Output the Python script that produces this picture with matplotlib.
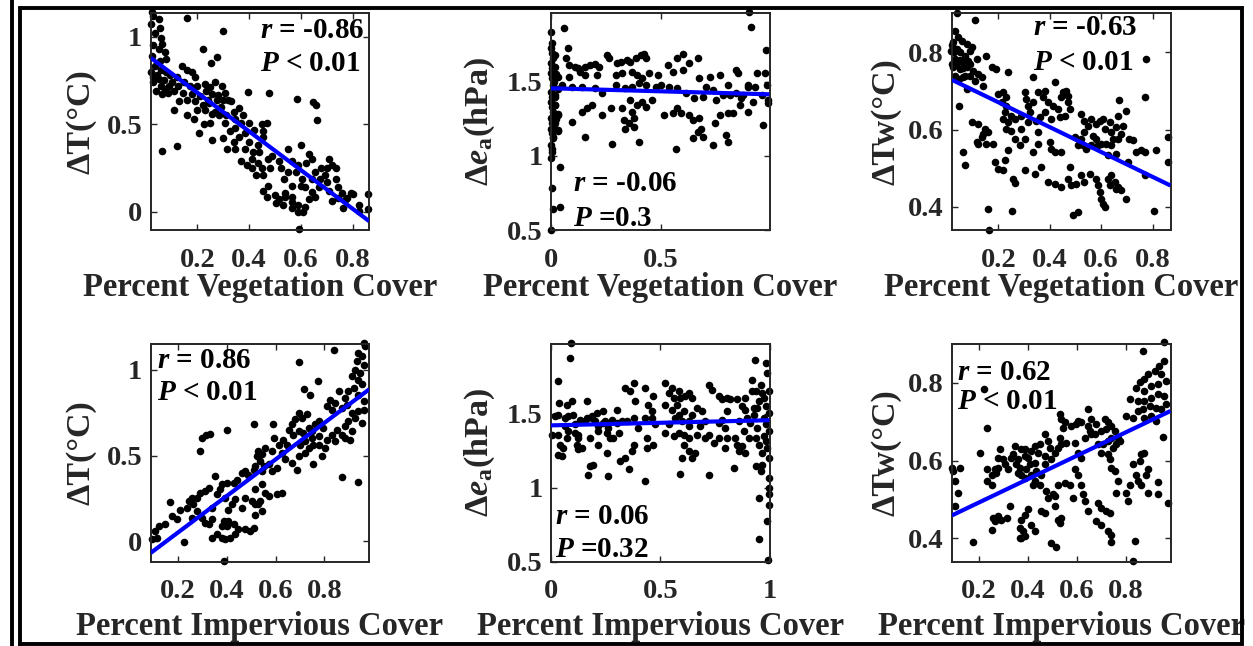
import numpy as np
import matplotlib
matplotlib.use("Agg")
import matplotlib.pyplot as plt
from matplotlib.ticker import FormatStrFormatter
from matplotlib.lines import Line2D

# ---------------- data ----------------
# Panel 1: dT vs percent vegetation cover
veg_dT = [(0.023,1.14),(0.03,1.12),(0.05,1.10),(0.022,1.07),(0.055,1.05),(0.035,1.02),(0.06,0.99),(0.065,0.96),
    (0.03,0.95),(0.05,0.93),(0.075,0.91),(0.025,0.89),(0.055,0.86),(0.08,0.87),(0.035,0.83),(0.06,0.81),(0.022,0.80),
    (0.045,0.78),(0.08,0.80),(0.03,0.74),(0.07,0.75),(0.09,0.72),(0.04,0.69),(0.075,0.70),(0.1,0.74),(0.11,0.69),
    (0.125,0.72),(0.06,0.72),(0.05,0.76),(0.095,0.78),(0.12,0.77),(0.03,0.77),(0.085,0.68),(0.065,0.67),
    (0.159,1.105),(0.298,1.034),(0.223,0.928),(0.275,0.886),(0.253,0.851),(0.062,0.349),(0.123,0.375),(0.395,0.686),
    (0.477,0.68),(0.585,0.644),(0.647,0.625),(0.658,0.61),(0.662,0.524),(0.594,-0.099),
    (0.14,0.83),(0.16,0.81),(0.18,0.80),(0.19,0.77),(0.15,0.74),(0.17,0.72),(0.2,0.72),(0.23,0.73),(0.25,0.71),
    (0.27,0.74),(0.295,0.72),(0.145,0.68),(0.18,0.67),(0.21,0.66),(0.235,0.69),(0.255,0.67),(0.28,0.665),(0.305,0.68),
    (0.32,0.64),(0.13,0.63),(0.16,0.64),(0.19,0.63),(0.22,0.61),(0.245,0.62),(0.275,0.64),(0.30,0.64),(0.33,0.63),
    (0.23,0.58),(0.255,0.56),(0.285,0.55),(0.31,0.55),(0.34,0.57),(0.11,0.58),(0.185,0.53),(0.225,0.50),(0.25,0.51),
    (0.305,0.51),(0.345,0.53),(0.205,0.45),(0.255,0.41),(0.30,0.42),(0.325,0.46),(0.345,0.48),(0.34,0.40),(0.345,0.36),
    (0.315,0.36),(0.27,0.57),(0.2,0.58),(0.16,0.55),(0.24,0.64),(0.29,0.60),(0.36,0.59),(0.37,0.51),
    (0.378,0.55),(0.40,0.51),(0.385,0.45),(0.36,0.43),(0.42,0.47),(0.45,0.50),(0.455,0.46),(0.47,0.51),(0.455,0.43),
    (0.435,0.38),(0.40,0.40),(0.385,0.36),(0.415,0.34),(0.44,0.34),(0.41,0.30),(0.435,0.28),(0.39,0.27),(0.37,0.29),
    (0.41,0.25),(0.45,0.25),(0.475,0.30),(0.49,0.32),(0.48,0.25),(0.455,0.21),(0.425,0.21),(0.475,0.15),(0.515,0.29),
    (0.525,0.25),(0.535,0.19),(0.55,0.23),(0.565,0.29),(0.58,0.23),(0.59,0.27),(0.552,0.36),(0.60,0.38),(0.63,0.33),
    (0.645,0.30),(0.62,0.28),(0.605,0.19),(0.60,0.15),(0.565,0.15),(0.54,0.11),(0.615,0.14),(0.645,0.19),(0.655,0.23),
    (0.68,0.25),(0.71,0.30),(0.70,0.25),(0.72,0.27),(0.735,0.25),(0.695,0.21),(0.675,0.19),(0.70,0.17),(0.735,0.19),
    (0.67,0.14),(0.71,0.12),(0.745,0.14),(0.76,0.105),(0.77,0.07),(0.80,0.10),(0.825,0.04),(0.86,0.10),(0.86,0.015),
    (0.765,0.02),(0.825,0.005),(0.78,0.08),(0.795,0.105),(0.745,0.08),(0.72,0.06),
    (0.47,0.086),(0.50,0.095),(0.54,0.086),(0.565,0.086),(0.505,0.048),(0.53,0.038),(0.565,0.019),(0.59,0.038),
    (0.63,0.076),(0.617,0.029),(0.59,0.0),(0.655,0.086),(0.643,0.114),(0.515,0.076),(0.565,0.057),(0.455,0.12),(0.61,0.0)]

# Panel 2: d e_a vs percent vegetation cover
veg_dea = [(0.002,1.837),(0.006,1.758),(0.0,1.725),(0.004,1.691),(0.008,1.657),(0.002,1.624),(0.006,1.59),(0.0,1.556),
    (0.004,1.522),(0.008,1.478),(0.002,1.433),(0.006,1.399),(0.0,1.365),(0.004,1.331),(0.008,1.298),(0.002,1.253),
    (0.006,1.219),(0.0,1.185),(0.004,1.152),(0.008,1.118),(0.002,1.073),(0.006,1.028),(0.0,0.983),(0.004,0.781),
    (0.008,0.646),(0.0,0.5),
    (0.018,1.68),(0.02,1.60),(0.025,1.55),(0.015,1.50),(0.03,1.45),(0.02,1.40),(0.018,1.34),(0.034,1.28),(0.025,1.25),
    (0.012,1.21),(0.03,1.17),
    (0.06,1.86),(0.041,0.927),(0.041,0.653),(0.076,1.73),(0.067,1.657),
    (0.08,1.612),(0.11,1.60),(0.125,1.59),(0.156,1.60),(0.179,1.612),(0.202,1.617),(0.217,1.60),(0.255,1.68),
    (0.263,1.657),(0.301,1.624),(0.317,1.635),(0.347,1.646),(0.362,1.635),(0.385,1.657),(0.408,1.68),(0.424,1.69),
    (0.431,1.657),
    (0.034,1.534),(0.08,1.534),(0.133,1.567),(0.156,1.545),(0.21,1.545),(0.294,1.545),(0.324,1.556),(0.37,1.567),
    (0.393,1.545),(0.416,1.522),(0.446,1.556),(0.485,1.545),(0.531,1.612),(0.554,1.567),(0.576,1.657),(0.599,1.69),
    (0.599,1.578),(0.63,1.624),(0.668,1.657),(0.676,1.522),(0.722,1.534),(0.768,1.545),(0.806,1.478),(0.844,1.578),
    (0.852,1.556),(0.898,1.478),(0.936,1.556),(0.974,1.556),(0.98,1.713),(0.913,1.87),(0.902,1.972),
    (0.018,1.41),(0.049,1.478),(0.095,1.466),(0.141,1.466),(0.202,1.455),(0.232,1.421),(0.294,1.478),(0.339,1.455),
    (0.37,1.466),(0.40,1.489),(0.431,1.478),(0.477,1.466),(0.50,1.478),(0.538,1.466),(0.576,1.455),(0.615,1.421),
    (0.653,1.388),(0.691,1.40),(0.706,1.466),(0.737,1.444),(0.752,1.376),(0.783,1.41),(0.813,1.41),(0.844,1.421),
    (0.875,1.41),(0.898,1.466),(0.928,1.466),(0.959,1.41),(0.982,1.478),(0.99,1.376),
    (0.018,1.343),(0.034,1.275),(0.095,1.23),(0.141,1.298),(0.164,1.32),(0.187,1.343),(0.232,1.275),(0.271,1.32),
    (0.324,1.32),(0.362,1.376),(0.37,1.298),(0.393,1.343),(0.416,1.365),(0.431,1.331),(0.462,1.376),(0.332,1.242),
    (0.355,1.219),(0.378,1.253),(0.339,1.185),(0.378,1.197),(0.278,1.078),(0.40,1.096),(0.515,1.275),(0.554,1.287),
    (0.576,1.32),(0.592,1.287),(0.63,1.275),(0.645,1.242),(0.676,1.253),(0.683,1.185),(0.668,1.163),(0.645,1.122),
    (0.569,1.046),(0.691,1.13),(0.737,1.073),(0.745,1.219),(0.768,1.275),(0.806,1.287),(0.798,1.14),(0.806,1.096),
    (0.829,1.287),(0.859,1.343),(0.867,1.388),(0.898,1.298),(0.92,1.365),(0.966,1.21),(0.989,1.354),(0.156,1.13),
    (0.034,1.174),(0.018,1.219),(0.011,1.13),(0.003,1.05)]

# Panel 3: dTw vs percent vegetation cover
veg_dTw = [(0.037,0.903),(0.11,0.884),(0.03,0.856),(0.043,0.839),(0.024,0.826),(0.056,0.83),(0.076,0.822),(0.095,0.813),
    (0.017,0.804),(0.05,0.80),(0.069,0.791),(0.089,0.804),(0.03,0.783),(0.056,0.774),(0.082,0.778),(0.115,0.783),
    (0.024,0.761),(0.05,0.757),(0.076,0.761),(0.102,0.753),(0.121,0.744),(0.03,0.74),(0.063,0.735),(0.089,0.74),
    (0.108,0.727),(0.134,0.735),(0.153,0.791),(0.173,0.761),(0.192,0.757),(0.238,0.748),(0.335,0.735),(0.419,0.724),
    (0.14,0.714),(0.076,0.705),(0.02,0.82),(0.04,0.81),(0.06,0.76),(0.035,0.77),(0.045,0.73),(0.02,0.77),(0.07,0.74),
    (0.09,0.77),(0.025,0.80),(0.05,0.78),
    (0.775,0.784),(0.769,0.684),(0.668,0.677),(0.697,0.647),(0.046,0.66),(0.063,0.543),(0.069,0.509),(0.16,0.395),
    (0.254,0.389),(0.164,0.339),(0.49,0.378),(0.51,0.386),(0.805,0.389),
    (0.095,0.619),(0.121,0.615),(0.147,0.602),(0.16,0.593),(0.14,0.588),(0.134,0.58),(0.121,0.563),(0.153,0.563),
    (0.179,0.563),(0.115,0.567),
    (0.199,0.692),(0.218,0.697),(0.231,0.684),(0.212,0.671),(0.231,0.662),(0.225,0.645),(0.25,0.636),(0.218,0.628),
    (0.238,0.619),(0.263,0.628),(0.231,0.602),(0.25,0.597),(0.263,0.576),(0.289,0.636),(0.309,0.679),(0.302,0.697),
    (0.315,0.662),(0.335,0.671),(0.354,0.697),(0.38,0.701),(0.374,0.684),(0.393,0.671),(0.38,0.645),(0.412,0.662),
    (0.432,0.653),(0.445,0.684),(0.451,0.697),(0.464,0.701),(0.471,0.688),(0.471,0.671),(0.477,0.653),(0.458,0.636),
    (0.438,0.632),(0.406,0.628),(0.348,0.623),(0.315,0.619),(0.289,0.602),(0.283,0.559),(0.238,0.546),(0.354,0.593),
    (0.40,0.567),(0.419,0.541),(0.445,0.541),(0.406,0.55),(0.361,0.632),(0.322,0.645),(0.302,0.576),(0.335,0.541),
    (0.354,0.563),
    (0.186,0.516),(0.199,0.498),(0.218,0.494),(0.225,0.52),(0.302,0.494),(0.341,0.485),(0.367,0.503),(0.393,0.464),
    (0.419,0.459),(0.445,0.451),(0.471,0.472),(0.477,0.503),(0.484,0.455),(0.503,0.459),(0.523,0.481),(0.535,0.464),
    (0.555,0.485),(0.581,0.472),(0.587,0.455),(0.594,0.438),(0.60,0.421),(0.607,0.408),(0.613,0.40),(0.626,0.472),
    (0.633,0.455),(0.639,0.481),(0.652,0.464),(0.659,0.447),(0.665,0.451),(0.678,0.442),(0.697,0.421),(0.257,0.472),
    (0.263,0.462),
    (0.523,0.641),(0.535,0.623),(0.535,0.593),(0.548,0.61),(0.561,0.628),(0.581,0.615),(0.594,0.623),(0.607,0.628),
    (0.613,0.602),(0.633,0.619),(0.639,0.593),(0.646,0.576),(0.568,0.584),(0.523,0.576),(0.529,0.559),(0.542,0.55),
    (0.561,0.559),(0.581,0.576),(0.60,0.563),(0.62,0.563),(0.639,0.559),(0.665,0.576),(0.678,0.589),(0.659,0.606),
    (0.684,0.61),(0.626,0.533),(0.71,0.576),(0.723,0.572),(0.736,0.541),(0.756,0.546),(0.769,0.541),(0.814,0.546),
    (0.859,0.58),(0.859,0.516),(0.704,0.516),(0.769,0.481),(0.665,0.636),(0.659,0.537),(0.497,0.58),(0.51,0.559),
    (0.587,0.559)]

# Panel 4: dT vs percent impervious cover
imp_dT = [(0.96,1.157),(0.967,1.138),(0.939,1.099),(0.953,1.08),(0.933,1.05),(0.96,1.031),(0.926,1.002),(0.946,0.983),
    (0.912,0.963),(0.939,0.944),(0.953,0.915),(0.919,0.895),(0.898,0.876),(0.939,0.856),(0.96,0.817),(0.885,0.837),
    (0.858,0.876),(0.844,0.808),(0.823,0.827),(0.81,0.788),(0.83,0.769),(0.871,0.779),(0.892,0.798),(0.912,0.75),
    (0.939,0.759),(0.96,0.769),(0.926,0.72),(0.898,0.701),(0.953,0.691),(0.912,0.643),(0.885,0.672),(0.851,0.652),
    (0.871,0.623),(0.83,0.623),(0.81,0.594),(0.844,0.584),(0.885,0.604),(0.905,0.594),
    (0.841,1.118),(0.697,1.047),(0.772,0.934),(0.716,0.891),(0.742,0.856),(0.871,0.375),(0.939,0.348),(0.40,0.65),
    (0.298,0.604),(0.315,0.623),(0.332,0.629),(0.291,0.526),(0.51,0.687),(0.59,0.687),(0.39,-0.115),
    (0.694,0.75),(0.708,0.72),(0.728,0.74),(0.68,0.711),(0.667,0.682),(0.653,0.652),(0.673,0.623),(0.694,0.643),
    (0.714,0.633),(0.735,0.662),(0.748,0.643),(0.762,0.682),(0.776,0.701),(0.796,0.662),(0.776,0.614),(0.748,0.604),
    (0.721,0.584),(0.701,0.565),(0.735,0.546),(0.755,0.565),(0.776,0.565),(0.803,0.546),(0.789,0.497),(0.755,0.449),
    (0.721,0.517),(0.694,0.497),(0.687,0.419),(0.667,0.458),(0.639,0.478),(0.626,0.517),(0.612,0.565),(0.592,0.604),
    (0.632,0.594),(0.646,0.565),(0.585,0.526),(0.557,0.546),(0.544,0.507),(0.53,0.526),(0.523,0.497),(0.537,0.468),
    (0.551,0.439),(0.571,0.449),(0.585,0.41),(0.605,0.429),(0.544,0.41),(0.517,0.439),(0.51,0.419),(0.476,0.41),
    (0.489,0.39),(0.462,0.40),(0.441,0.361),(0.428,0.342),(0.40,0.342),(0.38,0.332),(0.353,0.381),(0.373,0.303),
    (0.36,0.274),(0.326,0.313),(0.312,0.293),(0.291,0.283),(0.278,0.254),(0.257,0.254),(0.264,0.216),(0.244,0.235),
    (0.237,0.196),(0.278,0.177),(0.21,0.186),(0.169,0.229),(0.175,0.148),(0.196,0.128),(0.148,0.099),(0.121,0.089),
    (0.107,0.06),(0.094,0.012),(0.114,0.021),(0.227,-0.002),(0.257,0.138),(0.298,0.138),(0.339,0.196),(0.394,0.254),
    (0.421,0.216),(0.407,0.186),(0.435,0.245),(0.476,0.254),(0.462,0.196),(0.517,0.303),(0.544,0.332),(0.557,0.283),
    (0.571,0.264),(0.537,0.235),(0.517,0.216),(0.544,0.177),(0.53,0.216),(0.503,0.235),(0.517,0.157),(0.496,0.06),
    (0.51,0.08),(0.476,0.07),(0.448,0.07),(0.428,0.099),(0.407,0.118),(0.435,0.041),(0.414,0.021),(0.394,0.012),
    (0.38,0.021),(0.36,0.041),(0.339,0.021),(0.326,0.099),(0.339,0.128),(0.312,0.109),(0.38,0.089),(0.40,0.089),
    (0.387,0.118),(0.605,0.274),(0.626,0.283)]

# Panel 5: d e_a vs percent impervious cover
imp_dea = [(0.092,1.977),(0.087,1.876),(0.031,1.723),(0.933,1.86),(0.982,1.842),(0.038,1.572),(0.034,1.493),
    (0.018,1.482),(0.003,1.358),(0.034,1.358),(0.041,1.29),(0.049,1.212),(0.072,1.336),(0.064,1.47),(0.08,1.482),
    (0.095,1.583),(0.072,1.561),(0.102,1.493),(0.11,1.426),(0.125,1.358),(0.125,1.336),(0.141,1.268),(0.164,1.583),
    (0.164,1.47),(0.187,1.482),(0.21,1.505),(0.202,1.448),(0.217,1.38),(0.24,1.516),(0.248,1.448),(0.255,1.369),
    (0.263,1.403),(0.271,1.336),(0.286,1.336),(0.301,1.527),(0.339,1.673),(0.362,1.651),(0.378,1.707),(0.378,1.47),
    (0.385,1.583),(0.431,1.673),(0.446,1.561),(0.469,1.617),(0.462,1.47),(0.477,1.426),(0.439,1.336),(0.469,1.29),
    (0.439,1.268),(0.378,1.29),(0.37,1.245),(0.339,1.20),(0.317,1.178),(0.355,1.122),(0.255,1.234),(0.217,1.29),
    (0.179,1.144),(0.194,1.155),(0.171,1.088),(0.263,1.077),(0.428,1.047),(0.523,1.707),(0.554,1.673),(0.538,1.64),
    (0.561,1.606),(0.584,1.651),(0.592,1.606),(0.615,1.617),(0.63,1.64),(0.645,1.606),(0.576,1.561),(0.554,1.527),
    (0.584,1.493),(0.607,1.516),(0.569,1.47),(0.599,1.448),(0.63,1.448),(0.645,1.493),(0.668,1.538),(0.691,1.516),
    (0.538,1.426),(0.523,1.369),(0.561,1.347),(0.584,1.369),(0.607,1.358),(0.63,1.336),(0.63,1.414),(0.607,1.29),
    (0.63,1.245),(0.661,1.234),(0.599,1.20),(0.592,1.093),(0.645,1.20),(0.668,1.358),(0.683,1.414),(0.706,1.448),
    (0.722,1.696),(0.737,1.662),(0.768,1.617),(0.783,1.595),(0.806,1.606),(0.821,1.595),(0.852,1.595),(0.89,1.606),
    (0.92,1.651),(0.92,1.73),(0.936,1.651),(0.959,1.696),(0.966,1.64),(0.974,1.606),(0.951,1.583),(0.943,1.538),
    (0.982,1.55),(0.997,1.651),(0.989,1.775),(0.997,1.505),(0.974,1.47),(0.982,1.426),(0.997,1.38),(0.974,1.347),
    (0.982,1.313),(0.989,1.268),(0.966,1.234),(0.997,1.20),(0.966,1.155),(0.959,1.11),(0.997,1.065),(0.997,0.998),
    (0.997,0.953),(0.997,0.885),(0.954,0.926),(0.989,0.777),(0.953,0.649),(0.994,0.507),(0.936,1.144),(0.928,1.493),
    (0.913,1.437),(0.898,1.47),(0.882,1.38),(0.859,1.448),(0.844,1.336),(0.852,1.29),(0.875,1.279),(0.859,1.245),
    (0.89,1.234),(0.905,1.336),(0.89,1.527),(0.875,1.55),(0.806,1.516),(0.783,1.459),(0.768,1.437),(0.798,1.403),
    (0.806,1.336),(0.768,1.336),(0.798,1.268),(0.836,1.133),(0.725,1.088),(0.706,1.336),(0.722,1.358),(0.745,1.302),
    (0.928,1.538),(0.936,1.336),(0.951,1.29),(0.943,1.403),(0.187,1.47),(0.133,1.459),(0.064,1.414),(0.08,1.38),
    (0.11,1.369),(0.156,1.448),(0.217,1.414),(0.24,1.437),(0.179,1.336),(0.118,1.29),(0.057,1.268),(0.034,1.223),
    (0.125,1.257),(0.278,1.459),(0.301,1.437),(0.324,1.448),(0.347,1.448),(0.309,1.369),(0.40,1.403),(0.431,1.47),
    (0.462,1.516),(0.523,1.561)]

# Panel 6: dTw vs percent impervious cover
imp_dTw = [(0.955,0.904),(0.871,0.883),(0.957,0.857),(0.937,0.844),(0.917,0.831),(0.89,0.822),(0.876,0.809),
    (0.856,0.801),(0.944,0.822),(0.964,0.805),(0.93,0.797),(0.903,0.792),(0.876,0.779),(0.842,0.788),(0.815,0.758),
    (0.849,0.754),(0.876,0.754),(0.903,0.762),(0.93,0.771),(0.957,0.766),(0.964,0.745),(0.944,0.732),(0.924,0.736),
    (0.897,0.741),(0.869,0.732),(0.849,0.728),(0.829,0.71),(0.802,0.715),(0.876,0.71),(0.903,0.715),(0.924,0.702),
    (0.223,0.784),(0.233,0.685),(0.093,0.581),(0.124,0.581),(0.176,0.39),(0.497,0.388),(0.514,0.377),(0.74,0.39),
    (0.838,0.394),(0.83,0.342),(0.953,0.66),(0.93,0.545),(0.93,0.513),(0.971,0.49),
    (0.097,0.573),(0.104,0.547),(0.117,0.517),(0.104,0.482),
    (0.205,0.62),(0.233,0.577),(0.233,0.547),(0.253,0.538),(0.287,0.629),(0.28,0.581),(0.273,0.568),(0.307,0.59),
    (0.314,0.452),(0.28,0.457),(0.26,0.452),(0.266,0.444),(0.293,0.448),(0.253,0.422),(0.327,0.482),(0.341,0.616),
    (0.348,0.637),(0.354,0.59),(0.36,0.568),(0.368,0.581),(0.375,0.564),(0.388,0.556),(0.395,0.577),(0.409,0.59),
    (0.415,0.564),(0.429,0.547),(0.422,0.538),(0.436,0.573),(0.456,0.564),(0.449,0.538),(0.402,0.607),(0.388,0.629),
    (0.375,0.629),(0.36,0.603),(0.402,0.474),(0.388,0.461),(0.375,0.448),(0.368,0.427),(0.382,0.418),(0.375,0.40),
    (0.388,0.405),(0.368,0.40),(0.415,0.435),(0.429,0.418),(0.456,0.47),(0.47,0.465),(0.476,0.521),(0.483,0.504),
    (0.503,0.513),(0.51,0.482),(0.524,0.448),(0.531,0.44),(0.537,0.452),(0.524,0.538),(0.551,0.543),(0.571,0.538),
    (0.585,0.504),(0.619,0.538),(0.625,0.513),(0.605,0.564),(0.592,0.577),(0.51,0.508),(0.497,0.603),(0.51,0.62),
    (0.524,0.633),(0.537,0.642),(0.558,0.646),(0.531,0.659),(0.544,0.685),(0.537,0.706),(0.531,0.719),(0.551,0.698),
    (0.578,0.689),(0.598,0.693),(0.619,0.698),(0.646,0.689),(0.66,0.667),(0.68,0.693),(0.70,0.676),(0.72,0.68),
    (0.727,0.698),(0.714,0.706),(0.74,0.689),(0.754,0.676),(0.74,0.659),(0.727,0.65),(0.707,0.642),(0.686,0.642),
    (0.70,0.62),(0.727,0.616),(0.734,0.603),(0.747,0.633),(0.761,0.642),(0.768,0.659),(0.775,0.65),(0.74,0.581),
    (0.754,0.573),(0.768,0.547),(0.761,0.517),(0.686,0.491),(0.70,0.478),(0.72,0.47),(0.734,0.465),(0.632,0.495),
    (0.646,0.47),(0.68,0.444),(0.70,0.435),(0.727,0.418),(0.74,0.409),(0.808,0.495),(0.802,0.517),(0.815,0.538),
    (0.842,0.564),(0.829,0.59),(0.856,0.599),(0.863,0.616),(0.876,0.62),(0.89,0.577),(0.883,0.564),(0.849,0.547),
    (0.863,0.538),(0.89,0.517),(0.646,0.732),(0.66,0.706),(0.605,0.702),(0.47,0.667),(0.483,0.65),(0.449,0.642),
    (0.429,0.637),(0.49,0.633),(0.443,0.62),(0.47,0.612),(0.415,0.624),(0.388,0.612),(0.334,0.607),(0.321,0.577),
    (0.30,0.603),(0.28,0.607),(0.266,0.577),(0.253,0.564),(0.429,0.594),(0.47,0.59),(0.592,0.646),(0.632,0.659),
    (0.653,0.676),(0.673,0.667),(0.605,0.62),(0.619,0.607)]

# regression lines (slope, intercept)
fit_slopes = [-1.104, -0.041, -0.322, 1.067, 0.035, 0.302]
fit_intercepts = [0.901, 1.456, 0.735, -0.162, 1.42, 0.431]

r_labels = ["-0.86", "-0.06", "-0.63", "0.86", "0.06", "0.62"]
p_labels = ["< 0.01", "=0.3", "< 0.01", "< 0.01", "=0.32", "< 0.01"]

x_labels = ["Percent Vegetation Cover"] * 3 + ["Percent Impervious Cover"] * 3
y_labels = ["ΔT(°C)", "Δ$\\mathit{e}_{\\mathrm{a}}$(hPa)", "ΔTw(°C)"] * 2

x_limits = [(0.0194, 0.8645), (0.0, 0.995), (0.019, 0.87), (0.089, 0.983), (0.0, 1.0), (0.092, 0.982)]
y_limits = [(-0.105, 1.137), (0.5, 1.965), (0.339, 0.903), (-0.117, 1.151), (0.5, 1.97), (0.34, 0.90)]
x_ticks = [[0.2, 0.4, 0.6, 0.8], [0, 0.5], [0.2, 0.4, 0.6, 0.8], [0.2, 0.4, 0.6, 0.8], [0, 0.5, 1], [0.2, 0.4, 0.6, 0.8]]
y_ticks = [[0, 0.5, 1], [0.5, 1, 1.5], [0.4, 0.6, 0.8], [0, 0.5, 1], [0.5, 1, 1.5], [0.4, 0.6, 0.8]]

panels = [veg_dT, veg_dea, veg_dTw, imp_dT, imp_dea, imp_dTw]

# ---------------- layout / style ----------------
plt.rcParams['font.family'] = ['Liberation Serif', 'DejaVu Serif']
plt.rcParams['font.weight'] = 'bold'
plt.rcParams['mathtext.fontset'] = 'custom'
plt.rcParams['mathtext.rm'] = 'Liberation Serif:bold'
plt.rcParams['mathtext.it'] = 'Liberation Serif:italic:bold'
plt.rcParams['mathtext.bf'] = 'Liberation Serif:bold'

W, H = 1253, 646
fig = plt.figure(figsize=(W / 100, H / 100), dpi=100)

ax_gray = '#262626'
col_left = [150.7, 551, 952]
row_top = [12.7, 344]
ax_w, ax_h = 218.5, 217.5

# text placement in axes fraction (r-line, P-line)
txt_pos = [(0.50, 0.92, 0.768), (0.10, 0.216, 0.055), (0.37, 0.93, 0.773),
           (0.03, 0.926, 0.775), (0.018, 0.205, 0.054), (0.023, 0.867, 0.734)]
ylab_x = [-0.246, -0.247, -0.233, -0.246, -0.247, -0.233]
xlab_y = [-0.262, -0.262, -0.262, -0.30, -0.30, -0.30]

for i, pts in enumerate(panels):
    r, c = divmod(i, 3)
    left = col_left[c] / W
    bottom = 1 - (row_top[r] + ax_h) / H
    ax = fig.add_axes([left, bottom, ax_w / W, ax_h / H])
    xs = np.array([p[0] for p in pts])
    ys = np.array([p[1] for p in pts])
    ax.scatter(xs, ys, s=30, color='black', linewidths=0, zorder=2, clip_on=False)
    xl = np.array(x_limits[i])
    ax.plot(xl, fit_slopes[i] * xl + fit_intercepts[i], color=(0, 0, 1), lw=3.0, zorder=3,
            solid_capstyle='butt')
    ax.set_xlim(*x_limits[i])
    ax.set_ylim(*y_limits[i])
    ax.set_xticks(x_ticks[i])
    ax.set_yticks(y_ticks[i])
    ax.xaxis.set_major_formatter(FormatStrFormatter('%g'))
    ax.yaxis.set_major_formatter(FormatStrFormatter('%g'))
    ax.tick_params(axis='both', direction='in', top=True, right=True, length=4, width=1.0,
                   colors=ax_gray, labelsize=20.5)
    ax.tick_params(axis='x', pad=12.5)
    ax.tick_params(axis='y', pad=6)
    for sp in ax.spines.values():
        sp.set_linewidth(1.4)
        sp.set_color(ax_gray)
    ax.set_xlabel(x_labels[i], fontsize=23.5, fontweight='bold', color=ax_gray)
    ax.xaxis.set_label_coords(0.5, xlab_y[i])
    ax.xaxis.label.set_va('center')
    ax.set_ylabel(y_labels[i], fontsize=24.5, fontweight='bold', color=ax_gray)
    ax.yaxis.set_label_coords(ylab_x[i], 0.5)
    tx, ty1, ty2 = txt_pos[i]
    ax.text(tx, ty1, "$\\mathit{r}$ = " + r_labels[i], transform=ax.transAxes, ha='left', va='center',
            fontsize=21, fontweight='bold', color='black', zorder=4)
    ax.text(tx, ty2, "$\\mathit{P}$ " + p_labels[i], transform=ax.transAxes, ha='left', va='center',
            fontsize=21, fontweight='bold', color='black', zorder=4)

# figure frame lines
lw_frame = 2.8
fig.add_artist(Line2D([12 / W, 12 / W], [0.0, 1.0], transform=fig.transFigure, color='black', lw=lw_frame))
bx0, bx1 = 20 / W, 1242 / W
by0, by1 = 1 - 643.5 / H, 1 - 7.5 / H
fig.add_artist(Line2D([bx0, bx1, bx1, bx0, bx0], [by0, by0, by1, by1, by0], transform=fig.transFigure,
                      color='black', lw=lw_frame, solid_joinstyle='miter'))

fig.savefig("out.png", dpi=100)
